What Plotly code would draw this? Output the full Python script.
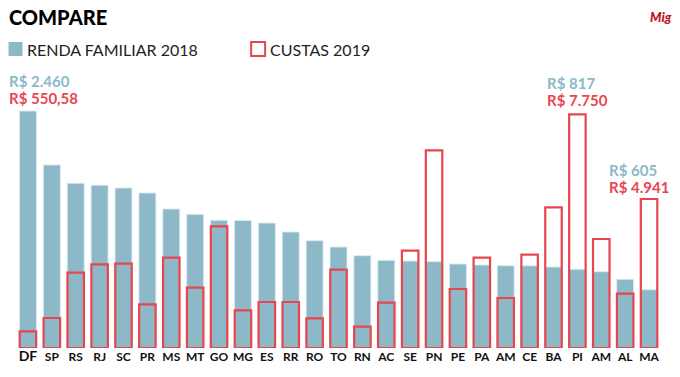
import plotly.graph_objects as go

states = ["DF", "SP", "RS", "RJ", "SC", "PR", "MS", "MT", "GO", "MG", "ES", "RR", "RO", "TO",
          "RN", "AC", "SE", "PN", "PE", "PA", "AM", "CE", "BA", "PI", "AM", "AL", "MA"]
renda_2018 = [2460, 1900, 1710, 1689, 1661, 1609, 1443, 1388, 1326, 1324, 1297, 1204, 1114, 1048,
              958, 910, 903, 896, 872, 862, 854, 853, 841, 817, 792, 713, 605]
custas_2019 = [550.58, 995, 2497, 2775, 2796, 1449, 2994, 2000, 4035, 1250, 1525, 1525, 985, 2596,
               706, 1502, 3227, 6556, 1956, 2994, 1658, 3094, 4666, 7750, 3614, 1801, 4941]

BLUE = "#8cb8c8"
RED = "#e8464f"

W, H = 680, 377
ML, MR, MT, MB = 15.5, 18.5, 100, 29
PW = W - ML - MR
PH = H - MT - MB

def px(x):
    return (x - ML) / PW

def py(y):
    return (H - MB - y) / PH

idx = list(range(len(states)))
ticktext = ["<b style='font-size:14px'>DF</b>" if s == "DF" else "<b>%s</b>" % s for s in states]

fig = go.Figure()
fig.add_trace(go.Bar(x=idx, y=renda_2018, width=0.71, marker=dict(color=BLUE,
                     line=dict(color="rgba(220,235,240,0.9)", width=1)),
                     yaxis="y", name="RENDA FAMILIAR 2018", showlegend=False))
fig.add_trace(go.Bar(x=idx, y=custas_2019, width=0.69, marker=dict(color="rgba(0,0,0,0)",
                     line=dict(color=RED, width=2.2)),
                     yaxis="y2", name="CUSTAS 2019", showlegend=False))

fig.update_layout(
    width=W, height=H, margin=dict(l=ML, r=MR, t=MT, b=MB, autoexpand=False),
    paper_bgcolor="white", plot_bgcolor="white",
    barmode="overlay",
    font=dict(family="Lato", color="#111"),
    xaxis=dict(range=[-0.5, 26.5], tickvals=idx, ticktext=ticktext, showgrid=False,
               zeroline=False, showline=False, ticks="", tickfont=dict(size=12, color="#111"),
               fixedrange=True, automargin=False),
    yaxis=dict(range=[0, 2574], visible=False, fixedrange=True),
    yaxis2=dict(range=[0, 8224], visible=False, overlaying="y", fixedrange=True),
)

ann = []
def add_text(text, x, y, size, color, weight="bold", xanchor="left"):
    ann.append(dict(text=text, x=px(x), y=py(y), xref="paper", yref="paper", xanchor=xanchor,
                    yanchor="middle", showarrow=False,
                    font=dict(size=size, color=color, family="Lato", weight=weight)))

add_text("COMPARE", 6, 17, 20, "#000", weight=900)
add_text("<i>Mig</i>", 675, 17, 13, "#c0131c", weight=900, xanchor="right")
add_text("RENDA FAMILIAR 2018", 25, 49, 16, "#222", weight="normal")
add_text("CUSTAS 2019", 268, 49, 16, "#222", weight="normal")
add_text("R$ 2.460", 6, 81, 15, BLUE)
add_text("R$ 550,58", 6, 98, 15, RED)
add_text("R$ 817", 545, 83, 15, BLUE)
add_text("R$ 7.750", 545, 100, 15, RED)
add_text("R$ 605", 607, 170, 15, BLUE)
add_text("R$ 4.941", 607, 187, 15, RED)
fig.update_layout(annotations=ann)

fig.add_shape(type="rect", xref="paper", yref="paper", x0=px(8), x1=px(22), y0=py(56), y1=py(42),
              fillcolor=BLUE, line=dict(width=0))
fig.add_shape(type="rect", xref="paper", yref="paper", x0=px(251), x1=px(265), y0=py(56), y1=py(42),
              fillcolor="rgba(0,0,0,0)", line=dict(color=RED, width=2))

fig.write_html("out.html", config={"displayModeBar": False},
               post_script="document.body.style.margin='0';document.body.style.overflow='hidden';")
